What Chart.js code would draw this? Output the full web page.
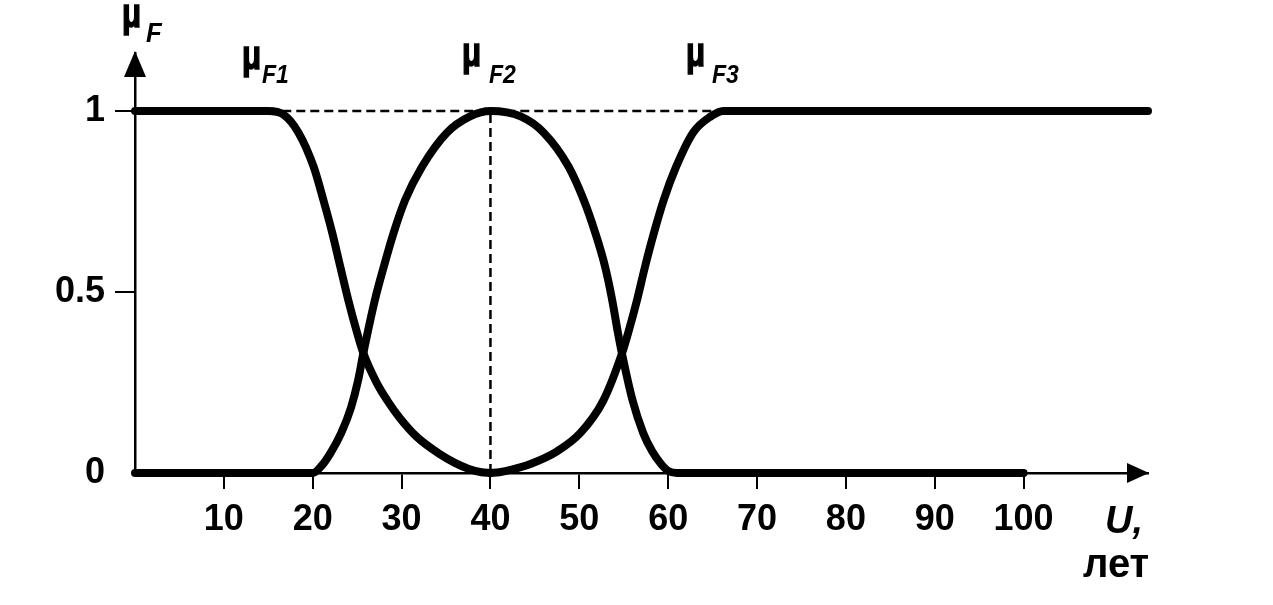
<!DOCTYPE html>
<html>
<head>
<meta charset="utf-8">
<title>μF</title>
<script src="https://cdn.jsdelivr.net/npm/chart.js@4.4.1/dist/chart.umd.min.js"></script>
<style>
  html, body { margin: 0; padding: 0; background: #fff; }
  canvas { display: block; }
</style>
</head>
<body>
<canvas id="muChart" width="1273" height="605"></canvas>
<script>
'use strict';

// membership curves, U in years
let f1U = [0, 15, 16.7, 18.4, 20.1, 21.2, 22.2, 23.1, 24.0, 25.0, 25.7, 27.2, 28.4, 29.8, 31.7, 34.3, 36, 37.5, 39, 40];
let f1Mu = [1, 1, 0.99, 0.94, 0.846, 0.754, 0.663, 0.57, 0.478, 0.387, 0.331, 0.249, 0.2, 0.152, 0.1, 0.052, 0.028, 0.012, 0.002, 0];

let f2U = [0, 20, 21, 22, 23.2, 24.3, 25.1, 25.7, 27.0, 28.0, 29.1, 30.4, 32.3, 35.1, 37.7, 40, 43.4, 46.0, 48.8, 50.5, 51.8, 52.9, 53.7, 54.35, 54.8, 56.0, 57.2, 58.2, 59.2, 60, 61, 100];
let f2Mu = [0, 0, 0.02, 0.055, 0.11, 0.18, 0.255, 0.331, 0.478, 0.57, 0.663, 0.754, 0.846, 0.94, 0.985, 1, 0.985, 0.94, 0.846, 0.754, 0.663, 0.57, 0.478, 0.387, 0.33, 0.2, 0.11, 0.06, 0.025, 0.006, 0, 0];

let f3U = [40, 41, 42.5, 44.5, 47.5, 50.1, 52.7, 54.8, 55.5, 56.5, 57.4, 58.4, 59.5, 60.9, 62.8, 64.8, 66.2, 114];
let f3Mu = [0, 0.002, 0.01, 0.025, 0.06, 0.11, 0.2, 0.33, 0.387, 0.478, 0.57, 0.663, 0.754, 0.846, 0.94, 0.985, 1, 1];

// dashed guides
let topGuideU = [15, 66];
let topGuideMu = [1, 1];
let peakGuideU = [40, 40];
let peakGuideMu = [0, 1];

let uTicks = [10, 20, 30, 40, 50, 60, 70, 80, 90, 100];
let muTicks = [0, 0.5, 1];

let fontFamily = '"Liberation Sans", Arial, Helvetica, sans-serif';

function toPoints(us, mus) {
  let points = [];
  for (let i = 0; i < us.length; i++) {
    points.push({ x: us[i], y: mus[i] });
  }
  return points;
}

function curve(points) {
  return {
    data: points,
    borderColor: '#000',
    borderWidth: 8,
    borderCapStyle: 'round',
    borderJoinStyle: 'round',
    cubicInterpolationMode: 'monotone',
    pointRadius: 0,
    fill: false,
    clip: false,
    order: 1
  };
}

function guide(points) {
  return {
    data: points,
    borderColor: '#000',
    borderWidth: 2.5,
    borderDash: [9, 5],
    tension: 0,
    pointRadius: 0,
    fill: false,
    clip: false,
    order: 2
  };
}

function drawMu(ctx, left, base, sub, subLeft, subBase, subSize) {
  ctx.save();
  ctx.translate(left, base);
  ctx.scale(0.78, 1);
  ctx.font = 'bold 40px ' + fontFamily;
  ctx.lineWidth = 1.6;
  ctx.strokeStyle = '#000';
  ctx.fillText('\u03bc', 0, 0);
  ctx.strokeText('\u03bc', 0, 0);
  ctx.restore();
  ctx.save();
  ctx.translate(subLeft, subBase);
  ctx.scale(0.92, 1);
  ctx.font = 'italic bold ' + subSize + 'px ' + fontFamily;
  ctx.fillText(sub, 0, 0);
  ctx.restore();
}

// arrows and captions that are not part of the axes
const sketchExtras = {
  id: 'sketchExtras',
  afterDraw(chart) {
    const ctx = chart.ctx;
    const area = chart.chartArea;
    ctx.save();
    ctx.fillStyle = '#000';
    ctx.textAlign = 'left';
    ctx.textBaseline = 'alphabetic';

    // mu axis arrow
    ctx.beginPath();
    ctx.moveTo(area.left, area.top - 2);
    ctx.lineTo(area.left - 11, area.top + 24);
    ctx.lineTo(area.left + 11, area.top + 24);
    ctx.closePath();
    ctx.fill();

    // U axis arrow
    ctx.beginPath();
    ctx.moveTo(area.right + 1, area.bottom);
    ctx.lineTo(area.right - 21, area.bottom - 10);
    ctx.lineTo(area.right - 21, area.bottom + 10);
    ctx.closePath();
    ctx.fill();

    drawMu(ctx, 122, 27, 'F', 146, 42, 28);
    drawMu(ctx, 242, 69, 'F1', 262, 83, 25);
    drawMu(ctx, 462, 66, 'F2', 489, 83, 25);
    drawMu(ctx, 686, 66, 'F3', 712, 83, 25);

    ctx.font = 'italic bold 38px ' + fontFamily;
    ctx.fillText('U,', 1105, 533);
    ctx.font = 'bold 40px ' + fontFamily;
    ctx.fillText('лет', 1083, 577);
    ctx.restore();
  }
};

const ctx = document.getElementById('muChart');

let config = {
  type: 'line',
  data: {
    datasets: [
      curve(toPoints(f1U, f1Mu)),
      curve(toPoints(f2U, f2Mu)),
      curve(toPoints(f3U, f3Mu)),
      guide(toPoints(topGuideU, topGuideMu)),
      guide(toPoints(peakGuideU, peakGuideMu))
    ]
  },
  options: {
    responsive: false,
    animation: false,
    devicePixelRatio: 1,
    layout: {
      padding: { top: 53, right: 125, left: 0, bottom: 0 }
    },
    plugins: {
      legend: { display: false },
      tooltip: { enabled: false }
    },
    scales: {
      x: {
        type: 'linear',
        min: 0,
        max: 114,
        afterBuildTicks: (scale) => {
          scale.ticks = uTicks.map(v => ({ value: v }));
        },
        afterFit: (scale) => {
          scale.height = 132;
        },
        grid: {
          display: true,
          drawOnChartArea: false,
          drawTicks: true,
          tickLength: 16,
          color: '#000',
          lineWidth: 2
        },
        border: { display: true, color: '#000', width: 2.5 },
        ticks: {
          color: '#000',
          padding: 9,
          maxRotation: 0,
          autoSkip: false,
          font: { family: fontFamily, size: 36, weight: 'bold' }
        }
      },
      y: {
        type: 'linear',
        min: 0,
        max: 1.16,
        afterBuildTicks: (scale) => {
          scale.ticks = muTicks.map(v => ({ value: v }));
        },
        afterFit: (scale) => {
          scale.width = 135;
        },
        grid: {
          display: true,
          drawOnChartArea: false,
          drawTicks: true,
          tickLength: 20,
          color: (c) => (c.tick && c.tick.value === 0 ? 'rgba(0,0,0,0)' : '#000'),
          lineWidth: 2
        },
        border: { display: true, color: '#000', width: 2.5 },
        ticks: {
          color: '#000',
          padding: 10,
          autoSkip: false,
          callback: (v) => String(v),
          font: { family: fontFamily, size: 36, weight: 'bold' }
        }
      }
    }
  },
  plugins: [sketchExtras]
};

let muChart = new Chart(ctx, config);
</script>
</body>
</html>
